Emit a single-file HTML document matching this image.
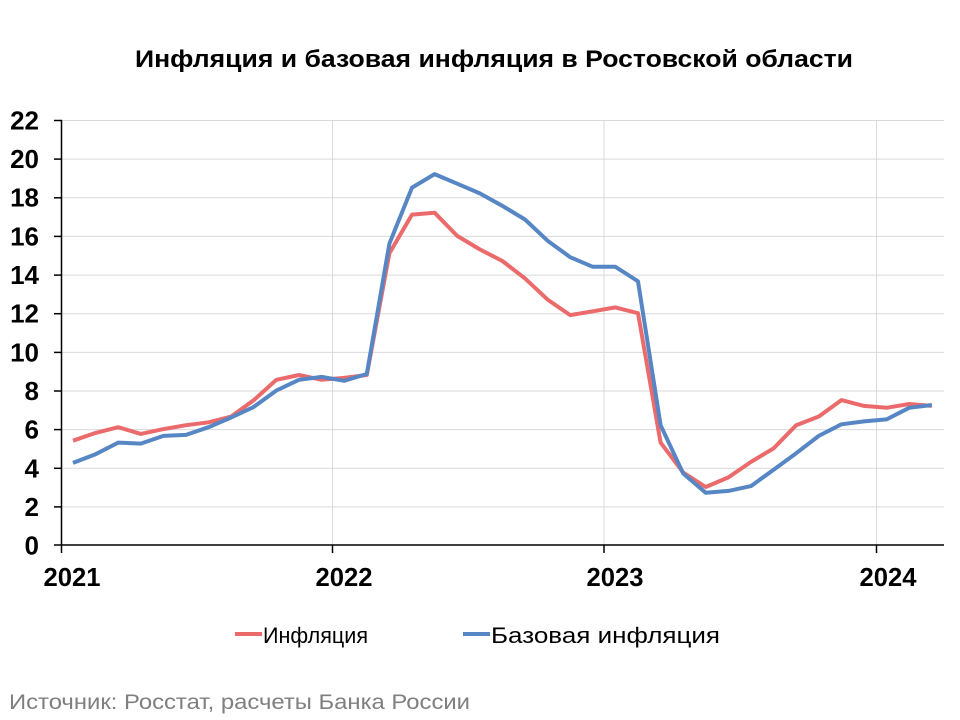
<!DOCTYPE html>
<html><head><meta charset="utf-8"><style>html,body{margin:0;padding:0;background:#fff}svg{display:block}</style></head>
<body>
<svg width="960" height="720" viewBox="0 0 960 720" xmlns="http://www.w3.org/2000/svg" font-family="Liberation Sans, Arial, sans-serif">
<rect width="960" height="720" fill="#fff"/>
<text x="494" y="67" text-anchor="middle" font-size="24" font-weight="bold" textLength="718" lengthAdjust="spacingAndGlyphs">Инфляция и базовая инфляция в Ростовской области</text>
<g stroke="#d9d9d9" stroke-width="1">
<line x1="62" x2="944" y1="120.5" y2="120.5"/><line x1="62" x2="944" y1="159.1" y2="159.1"/><line x1="62" x2="944" y1="197.8" y2="197.8"/><line x1="62" x2="944" y1="236.4" y2="236.4"/><line x1="62" x2="944" y1="275.1" y2="275.1"/><line x1="62" x2="944" y1="313.7" y2="313.7"/><line x1="62" x2="944" y1="352.4" y2="352.4"/><line x1="62" x2="944" y1="391" y2="391"/><line x1="62" x2="944" y1="429.6" y2="429.6"/><line x1="62" x2="944" y1="468.3" y2="468.3"/><line x1="62" x2="944" y1="506.9" y2="506.9"/>
<line x1="332.5" x2="332.5" y1="120" y2="545"/><line x1="604" x2="604" y1="120" y2="545"/><line x1="876.5" x2="876.5" y1="120" y2="545"/>
</g>
<g stroke="#000" stroke-width="1.5">
<line x1="61.5" x2="61.5" y1="120" y2="553"/><line x1="54" x2="944" y1="545" y2="545"/>
<line x1="54" x2="62" y1="120.5" y2="120.5"/><line x1="54" x2="62" y1="159.1" y2="159.1"/><line x1="54" x2="62" y1="197.8" y2="197.8"/><line x1="54" x2="62" y1="236.4" y2="236.4"/><line x1="54" x2="62" y1="275.1" y2="275.1"/><line x1="54" x2="62" y1="313.7" y2="313.7"/><line x1="54" x2="62" y1="352.4" y2="352.4"/><line x1="54" x2="62" y1="391" y2="391"/><line x1="54" x2="62" y1="429.6" y2="429.6"/><line x1="54" x2="62" y1="468.3" y2="468.3"/><line x1="54" x2="62" y1="506.9" y2="506.9"/>
<line x1="332.5" x2="332.5" y1="545" y2="553"/><line x1="604" x2="604" y1="545" y2="553"/><line x1="876.5" x2="876.5" y1="545" y2="553"/>
</g>
<g font-size="26" font-weight="bold" text-anchor="end">
<text x="39" y="129.5">22</text><text x="39" y="168">20</text><text x="39" y="206.5">18</text><text x="39" y="245.5">16</text><text x="39" y="284">14</text><text x="39" y="322.5">12</text><text x="39" y="361.5">10</text><text x="39" y="400">8</text><text x="39" y="438.5">6</text><text x="39" y="477.5">4</text><text x="39" y="516">2</text><text x="39" y="554.5">0</text>
</g>
<g font-size="26" font-weight="bold" text-anchor="middle">
<text x="72" y="586" textLength="57" lengthAdjust="spacingAndGlyphs">2021</text><text x="344" y="586" textLength="57" lengthAdjust="spacingAndGlyphs">2022</text><text x="615" y="586" textLength="57" lengthAdjust="spacingAndGlyphs">2023</text><text x="888" y="586" textLength="57" lengthAdjust="spacingAndGlyphs">2024</text>
</g>
<polyline fill="none" stroke="#EB6B6C" stroke-width="4" stroke-linejoin="round" points="73.0,440.7 95.6,432.9 118.2,427.2 140.8,433.9 163.4,429.1 186.0,425.2 208.6,422.3 231.2,416.5 253.8,400.1 276.4,379.8 299.0,375.0 321.6,379.8 344.2,377.9 366.8,375.0 389.4,253.3 412.0,214.6 434.6,212.7 457.2,235.9 479.8,249.4 502.4,261.0 525.0,278.4 547.6,299.6 570.2,315.1 592.8,311.3 615.4,307.4 638.0,313.2 660.6,442.6 683.2,472.6 705.8,487.0 728.4,477.4 751.0,461.9 773.6,448.4 796.2,425.2 818.8,416.5 841.4,400.1 864.0,405.9 886.6,407.8 909.2,404.0 931.8,405.9"/>
<polyline fill="none" stroke="#5786C5" stroke-width="4" stroke-linejoin="round" points="73.0,462.9 95.6,454.2 118.2,442.6 140.8,443.6 163.4,435.9 186.0,434.9 208.6,427.2 231.2,417.5 253.8,406.9 276.4,390.5 299.0,379.8 321.6,376.9 344.2,380.8 366.8,374.0 389.4,243.6 412.0,187.6 434.6,174.1 457.2,183.7 479.8,193.4 502.4,205.9 525.0,219.5 547.6,240.7 570.2,257.2 592.8,266.8 615.4,266.8 638.0,281.3 660.6,425.2 683.2,473.5 705.8,492.8 728.4,490.9 751.0,486.1 773.6,469.7 796.2,453.2 818.8,435.9 841.4,424.3 864.0,421.4 886.6,419.4 909.2,407.8 931.8,405.0"/>
<line x1="235" x2="262" y1="634" y2="634" stroke="#EB6B6C" stroke-width="4"/>
<text x="263" y="643" font-size="22" textLength="105" lengthAdjust="spacingAndGlyphs">Инфляция</text>
<line x1="463" x2="490" y1="634" y2="634" stroke="#5786C5" stroke-width="4"/>
<text x="491" y="643" font-size="22" textLength="229" lengthAdjust="spacingAndGlyphs">Базовая инфляция</text>
<text x="9" y="709" font-size="21" fill="#7f7f7f" textLength="461" lengthAdjust="spacingAndGlyphs">Источник: Росстат, расчеты Банка России</text>
</svg>
</body></html>
